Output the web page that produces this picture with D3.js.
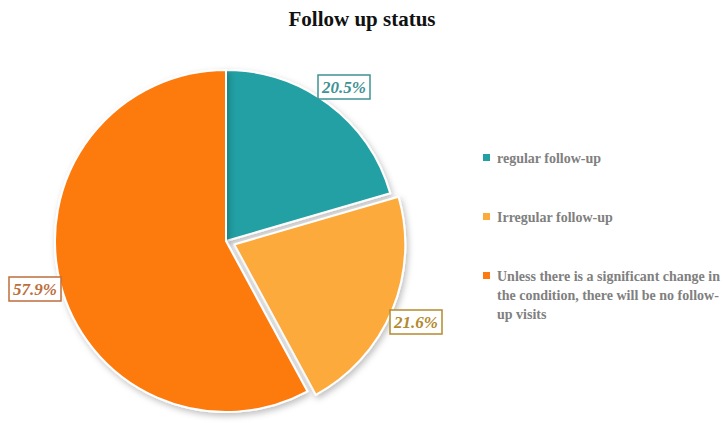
<!DOCTYPE html>
<html>
<head>
<meta charset="utf-8">
<script src="https://cdn.jsdelivr.net/npm/d3@7"></script>
<style>
  body { margin: 0; background: #fff; }
  svg { display: block; }
</style>
</head>
<body>
<svg width="724" height="430"></svg>
<script>
// data
const categories = [
  "regular follow-up",
  "Irregular follow-up",
  "Unless there is a significant change in the condition, there will be no follow-up visits"
];
const values = [20.5, 21.6, 57.9];
const sliceColors = ["#22a0a3", "#fdaa3c", "#fd7a10"];
const labelColors = ["#3f9294", "#b38a2e", "#bd6e3c"];
const legendLines = [
  ["regular follow-up"],
  ["Irregular follow-up"],
  ["Unless there is a significant change in", "the condition, there will be no follow-", "up visits"]
];

const svg = d3.select("svg");
const cx = 226, cy = 241, r = 171;

// drop shadow
const defs = svg.append("defs");
const f = defs.append("filter").attr("id", "sh")
  .attr("x", "-20%").attr("y", "-20%").attr("width", "140%").attr("height", "140%");
f.append("feDropShadow").attr("dx", 2).attr("dy", 3).attr("stdDeviation", 3)
  .attr("flood-color", "#000").attr("flood-opacity", 0.25);

// title
svg.append("text")
  .attr("x", 362).attr("y", 26)
  .attr("text-anchor", "middle")
  .attr("font-family", "Liberation Serif, Times New Roman, serif")
  .attr("font-weight", "bold")
  .attr("font-size", 21)
  .attr("fill", "#111")
  .text("Follow up status");

const pie = d3.pie().sort(null).value(d => d)(values);
const arc = d3.arc().innerRadius(0).outerRadius(r);

const g = svg.append("g").attr("transform", `translate(${cx},${cy})`);
const explode = [0, 9, 0];

g.selectAll("path")
  .data(pie)
  .enter()
  .append("path")
  .attr("transform", (d, i) => {
    const a = (d.startAngle + d.endAngle) / 2;
    return `translate(${explode[i] * Math.sin(a)},${-explode[i] * Math.cos(a)})`;
  })
  .attr("d", arc)
  .attr("fill", (d, i) => sliceColors[i])
  .attr("stroke", "#fff")
  .attr("stroke-width", 2)
  .attr("stroke-linejoin", "round")
  .attr("filter", "url(#sh)");

// data labels (boxed)
const labelPos = [[344, 87], [416, 322], [35, 289]];
pie.forEach((d, i) => {
  const lg = svg.append("g").attr("transform", `translate(${labelPos[i][0]},${labelPos[i][1]})`);
  lg.append("rect")
    .attr("x", -26).attr("y", -12).attr("width", 52).attr("height", 24)
    .attr("fill", "#fff")
    .attr("stroke", labelColors[i])
    .attr("stroke-width", 1.5);
  lg.append("text")
    .attr("text-anchor", "middle")
    .attr("y", 6)
    .attr("font-family", "Liberation Serif, Times New Roman, serif")
    .attr("font-style", "italic")
    .attr("font-weight", "bold")
    .attr("font-size", 17)
    .attr("fill", labelColors[i])
    .text(d3.format(".1f")(values[i]) + "%");
});

// legend
const legendY = [158, 217, 276];
const leg = svg.append("g");
legendLines.forEach((lines, i) => {
  leg.append("rect")
    .attr("x", 483).attr("y", legendY[i] - 4)
    .attr("width", 7).attr("height", 7)
    .attr("fill", sliceColors[i]);
  const t = leg.append("text")
    .attr("x", 497).attr("y", legendY[i] + 5)
    .attr("font-family", "Liberation Serif, Times New Roman, serif")
    .attr("font-weight", "bold")
    .attr("font-size", 14)
    .attr("fill", "#808080");
  lines.forEach((ln, j) => {
    t.append("tspan").attr("x", 497).attr("dy", j === 0 ? 0 : 19).text(ln);
  });
});
</script>
</body>
</html>
